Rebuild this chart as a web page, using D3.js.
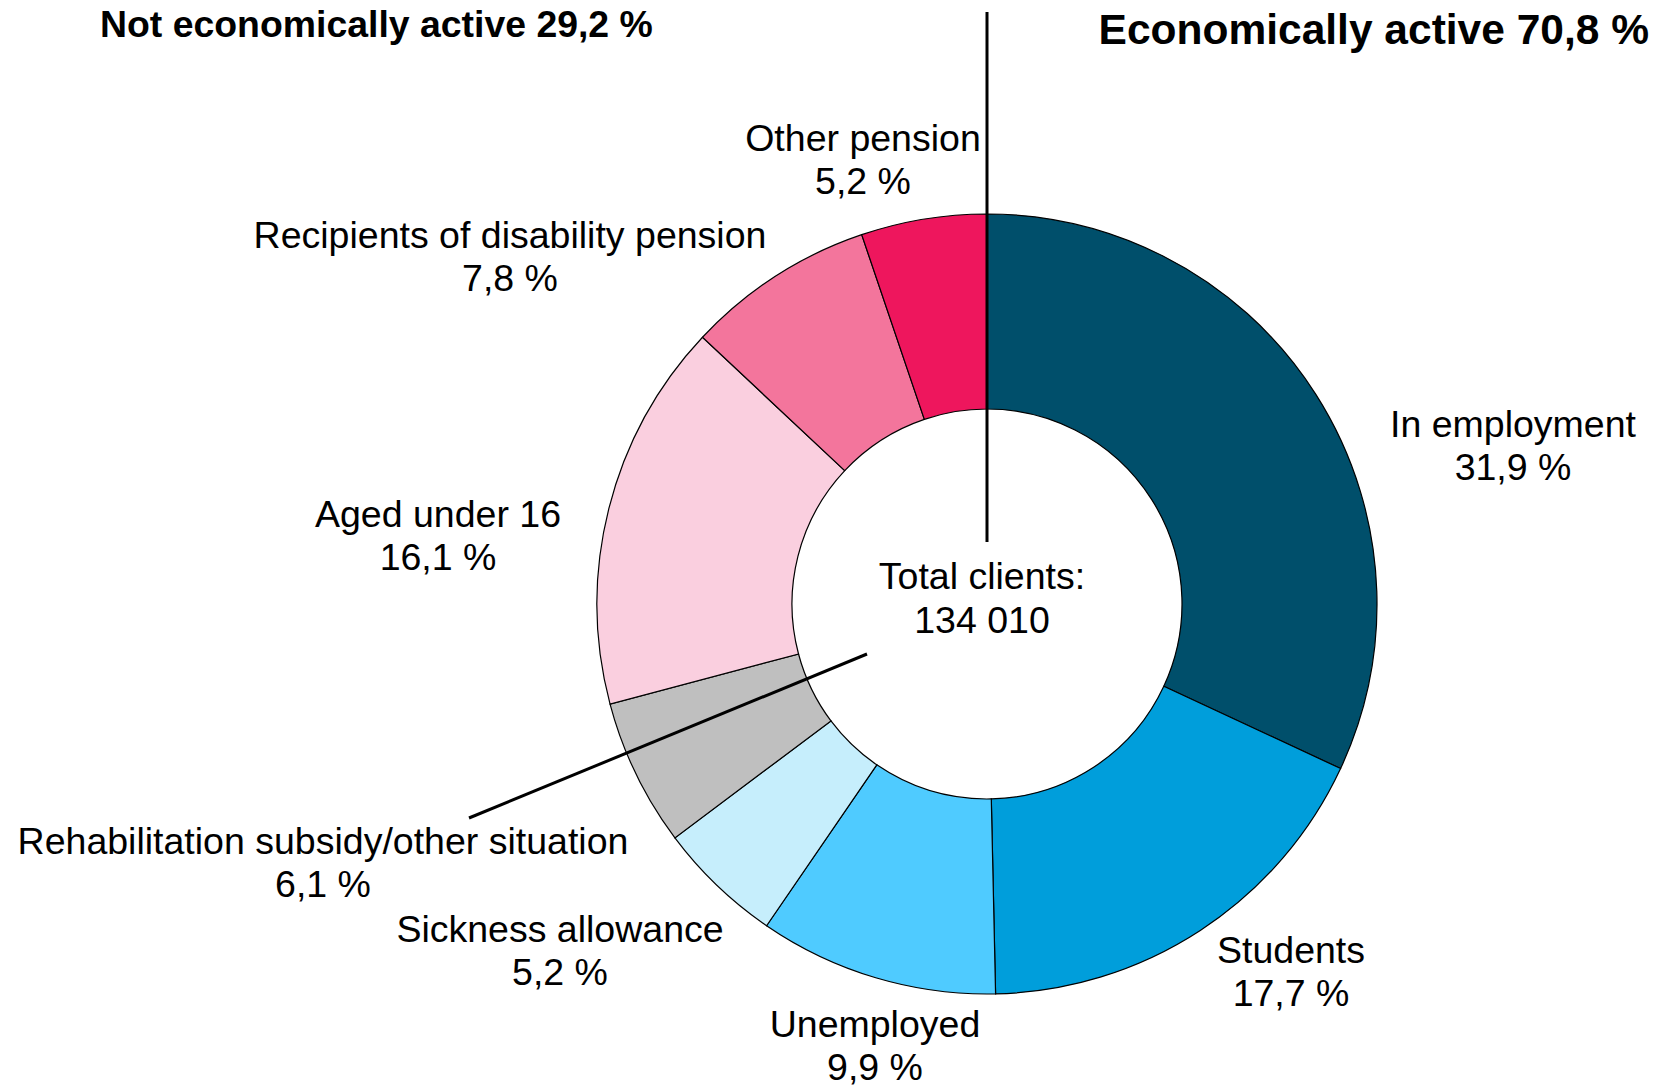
<!DOCTYPE html>
<html><head><meta charset="utf-8">
<script src="https://cdn.jsdelivr.net/npm/d3@7"></script>
<style>
html,body{margin:0;padding:0;background:#fff;}
svg{display:block;font-family:"Liberation Sans",Arial,sans-serif;}
</style></head>
<body>
<svg id="chart" width="1655" height="1087"></svg>
<script>
// ---- data ----
const categories = ["In employment","Students","Unemployed","Sickness allowance",
  "Rehabilitation subsidy/other situation","Aged under 16",
  "Recipients of disability pension","Other pension"];
const shares = [31.9, 17.7, 9.9, 5.2, 6.1, 16.1, 7.8, 5.2];
const shareLabels = ["31,9 %","17,7 %","9,9 %","5,2 %","6,1 %","16,1 %","7,8 %","5,2 %"];
const colors = ["#004F6B","#009EDB","#4FCBFF","#C6EEFC","#BFBFBF","#FACFDF","#F3759C","#EE165D"];
const groupTitles = ["Not economically active 29,2 %","Economically active 70,8 %"];
const totalLines = ["Total clients:","134 010"];

// ---- layout ----
const W = 1655, H = 1087;
const cx = 987, cy = 604, R = 390, r = 195;
const fs = 37.5;
// label anchor (center x, baseline of first line)
const labelPos = [[1513,437],[1291,963],[875,1037],[560,942],[323,854],[438,527],[510,248],[863,151]];

const svg = d3.select("#chart");
const g = svg.append("g").attr("transform",`translate(${cx},${cy})`);

const pie = d3.pie().sort(null).value(d=>d);
const arc = d3.arc().innerRadius(r).outerRadius(R);
const color = d3.scaleOrdinal().domain(categories).range(colors);

const arcs = pie(shares);
g.selectAll("path.slice").data(arcs).enter().append("path")
  .attr("class","slice")
  .attr("d",arc)
  .attr("fill",(d,i)=>color(categories[i]))
  .attr("stroke","#000").attr("stroke-width",1.2);

// divider line between groups
svg.append("line").attr("x1",cx).attr("x2",cx).attr("y1",12).attr("y2",542)
  .attr("stroke","#000").attr("stroke-width",3);

// leader line for rehabilitation label
svg.append("line").attr("x1",867).attr("y1",654).attr("x2",469).attr("y2",818)
  .attr("stroke","#000").attr("stroke-width",3);

// slice labels
categories.forEach((c,i)=>{
  const t = svg.append("text").attr("text-anchor","middle")
    .attr("font-size",fs).attr("fill","#000");
  t.append("tspan").attr("x",labelPos[i][0]).attr("y",labelPos[i][1]).text(c);
  t.append("tspan").attr("x",labelPos[i][0]).attr("dy",42.5).text(shareLabels[i]);
});

// center
const ct = svg.append("text").attr("text-anchor","middle").attr("font-size",fs);
ct.append("tspan").attr("x",982).attr("y",589).text(totalLines[0]);
ct.append("tspan").attr("x",982).attr("dy",44).text(totalLines[1]);

// group titles
svg.append("text").attr("x",100).attr("y",37).attr("font-size",37.4).attr("font-weight","bold")
  .text(groupTitles[0]);
svg.append("text").attr("x",1649).attr("y",44).attr("text-anchor","end").attr("font-size",42.5).attr("font-weight","bold")
  .text(groupTitles[1]);
</script>
</body></html>
